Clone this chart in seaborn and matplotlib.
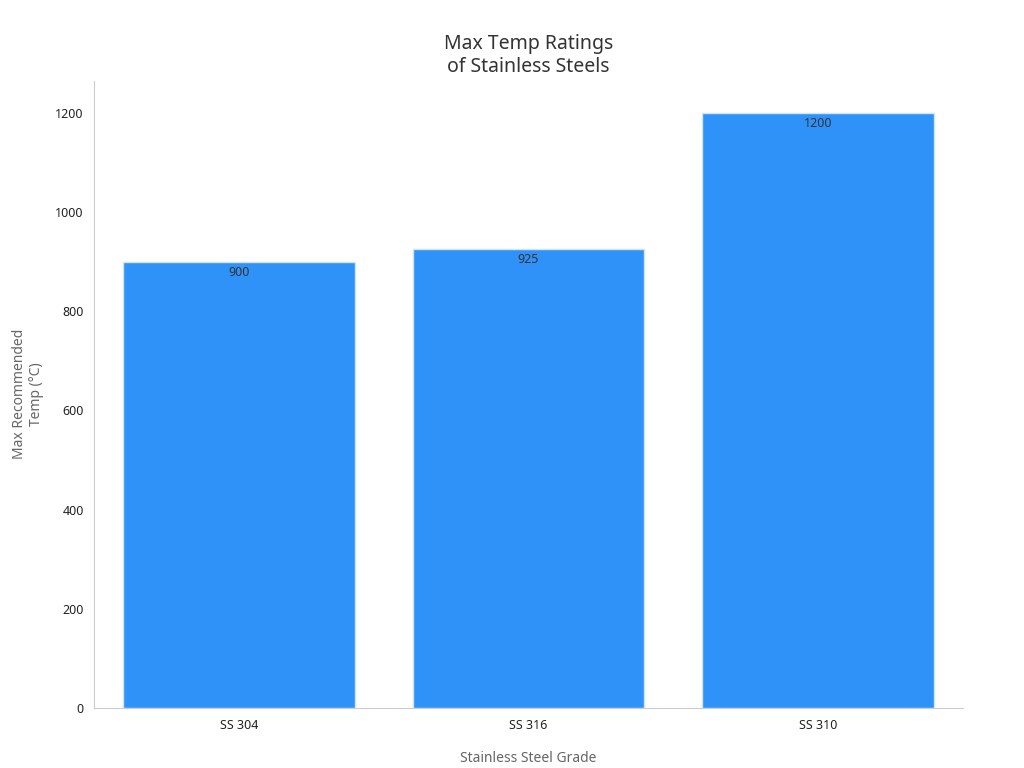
import matplotlib
matplotlib.use("Agg")
import matplotlib.pyplot as plt
import seaborn as sns
import pandas as pd

grades = ["SS 304", "SS 316", "SS 310"]
max_temps = [900, 925, 1200]

df = pd.DataFrame({"grade": grades, "temp": max_temps})

sns.set_style("white")
plt.rcParams['font.family'] = ['Noto Sans', 'DejaVu Sans']

fig, ax = plt.subplots(figsize=(10.24, 7.68), dpi=100)
sns.barplot(data=df, x="grade", y="temp", color="#2f92f8", saturation=1,
            width=0.8, edgecolor="#d0e4fa", linewidth=1, ax=ax)

for i, v in enumerate(max_temps):
    ax.text(i, v - 8, f"{v}", ha="center", va="top", fontsize=9, color="#333333")

ax.set_title("Max Temp Ratings\nof Stainless Steels", fontsize=14, color="#333333")
ax.set_xlabel("Stainless Steel Grade", fontsize=10, color="#666666", labelpad=14)
ax.set_ylabel("Max Recommended\nTemp (°C)", fontsize=10, color="#666666", labelpad=8)
ax.set_yticks(range(0, 1201, 200))
ax.set_ylim(0, 1265)
ax.tick_params(axis="both", labelsize=9, colors="#222222", length=4)
ax.tick_params(axis="both", color="#aaaaaa")
for s in ["top", "right"]:
    ax.spines[s].set_visible(False)
for s in ["left", "bottom"]:
    ax.spines[s].set_color("#cccccc")

plt.subplots_adjust(left=0.092, right=0.94, top=0.895, bottom=0.078)
fig.savefig("out.png")
